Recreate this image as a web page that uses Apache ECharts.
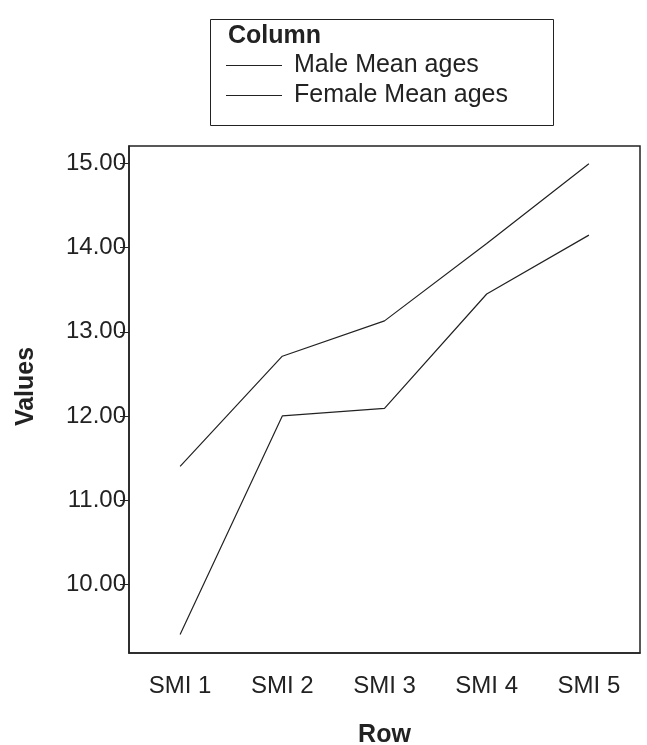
<!DOCTYPE html>
<html>
<head>
<meta charset="utf-8">
<script src="https://cdn.jsdelivr.net/npm/echarts@6/dist/echarts.min.js"></script>
<style>
  html, body { margin: 0; padding: 0; background: #fff; }
  #chart { width: 647px; height: 745px; }
</style>
</head>
<body>
<div id="chart"></div>
<script>
// data
const rows = ['SMI 1', 'SMI 2', 'SMI 3', 'SMI 4', 'SMI 5']
const maleMeanAges = [11.40, 12.71, 13.13, 14.05, 15.00]
const femaleMeanAges = [9.40, 12.00, 12.09, 13.45, 14.15]
const seriesNames = ['Male Mean ages', 'Female Mean ages']
const yTicks = [10, 11, 12, 13, 14, 15]

const font = '"Liberation Sans", Arial, sans-serif'
const ink = '#222'

const chart = echarts.init(document.getElementById('chart'), null, { renderer: 'canvas' })

const option = {
  animation: false,
  backgroundColor: '#fff',
  textStyle: { fontFamily: font, color: ink },
  title: {
    text: 'Column',
    left: 223,
    top: 19,
    textStyle: { fontFamily: font, fontSize: 25, fontWeight: 'bold', color: ink }
  },
  legend: {
    data: seriesNames,
    orient: 'vertical',
    left: 221,
    top: 48,
    itemWidth: 56,
    itemHeight: 1.2,
    itemGap: 5,
    icon: 'rect',
    itemStyle: { color: ink },
    textStyle: { fontFamily: font, fontSize: 25, color: ink, padding: [0, 0, 0, 7] }
  },
  graphic: [
    {
      type: 'rect',
      shape: { x: 210.5, y: 19.5, width: 343, height: 106 },
      style: { fill: 'none', stroke: ink, lineWidth: 1 }
    }
  ],
  grid: {
    left: 129,
    right: 7,
    top: 146,
    bottom: 92,
    outerBoundsMode: 'none',
    show: true,
    borderColor: ink,
    borderWidth: 1.5,
    backgroundColor: 'transparent'
  },
  xAxis: {
    type: 'category',
    data: rows,
    boundaryGap: true,
    name: 'Row',
    nameLocation: 'middle',
    nameGap: 70,
    nameMoveOverlap: false,
    nameTextStyle: { fontFamily: font, fontSize: 25, fontWeight: 'bold', color: ink },
    axisLine: { lineStyle: { color: ink, width: 1.5 } },
    axisTick: { alignWithLabel: true, length: 12, lineStyle: { color: ink } },
    axisLabel: { fontFamily: font, fontSize: 24, color: ink, margin: 21 },
    splitLine: { show: false }
  },
  yAxis: {
    type: 'value',
    min: 9.18,
    max: 15.21,
    name: 'Values',
    nameLocation: 'middle',
    nameGap: 90,
    nameMoveOverlap: false,
    nameRotate: 90,
    nameTextStyle: {
      fontFamily: font,
      fontSize: 25,
      fontWeight: 'bold',
      color: ink,
      padding: [0, 0, 0, 26]
    },
    axisLine: { show: true, lineStyle: { color: ink, width: 1.5 } },
    axisTick: {
      show: true,
      length: 9,
      lineStyle: { color: ink },
      customValues: yTicks
    },
    axisLabel: {
      fontFamily: font,
      fontSize: 24,
      color: ink,
      margin: 3,
      customValues: yTicks,
      formatter: v => v.toFixed(2)
    },
    splitLine: { show: false }
  },
  series: [
    {
      name: seriesNames[0],
      type: 'line',
      data: maleMeanAges,
      symbol: 'none',
      lineStyle: { color: ink, width: 1.2 },
      itemStyle: { color: ink }
    },
    {
      name: seriesNames[1],
      type: 'line',
      data: femaleMeanAges,
      symbol: 'none',
      lineStyle: { color: ink, width: 1.2 },
      itemStyle: { color: ink }
    }
  ]
}

chart.setOption(option)
</script>
</body>
</html>
